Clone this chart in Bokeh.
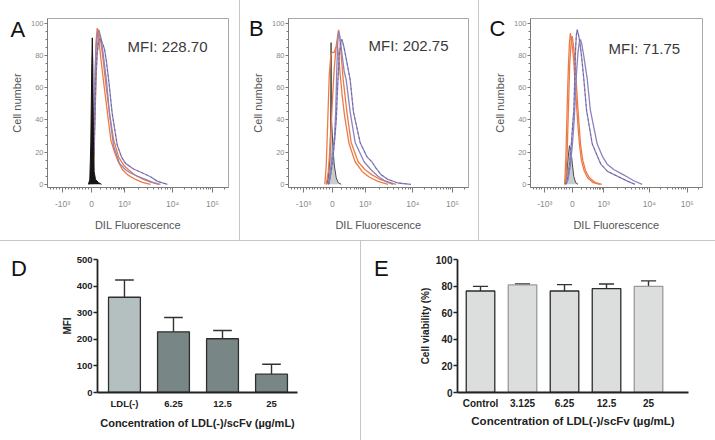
import math
from bokeh.plotting import figure
from bokeh.models import Range1d, FixedTicker, SingleIntervalTicker, Label, Spacer, GridBox
from bokeh.layouts import row, column
from bokeh.embed import file_html
from bokeh.resources import INLINE

FONT = "Liberation Sans"

# ---------------- data: flow cytometry histograms ----------------
# x in display units of a logicle axis, y = cell number (% of max)
x_tick_pos = [15, 44, 77, 125, 165]
x_tick_labels = ["-10³", "0", "10³", "10⁴", "10⁵"]

a_ctrl_x = [41, 42.3, 43.3, 44.3, 44.8, 45.3, 45.9, 46.6, 48, 51, 54]
a_ctrl_y = [0, 3, 25, 75, 91, 75, 30, 8, 3, 1, 0]
a_orange1_x = [44.5, 45.5, 46.5, 47.5, 48.5, 49.7, 51, 53, 56, 60, 63.5, 67, 70, 75, 81, 88, 95, 103]
a_orange1_y = [0, 10, 35, 65, 88, 97, 92, 80, 64, 44, 27, 20, 15, 9, 5.5, 3, 1.2, 0]
a_orange2_x = [45, 46, 47, 48.3, 49.5, 51.3, 53, 55.5, 58, 62, 66, 71, 76, 81, 88, 96, 104, 113]
a_orange2_y = [0, 8, 28, 60, 82, 94, 90, 78, 64, 44, 28, 17, 12, 9, 5.5, 3, 1.2, 0]
a_purple1_x = [41.5, 43, 44.5, 46, 46.8, 47.5, 48.5, 50, 51.3, 53, 55.5, 59, 62, 66, 72, 78, 83, 90, 98, 104, 111]
a_purple1_y = [0, 4, 12, 22, 40, 65, 85, 93, 96, 92, 82, 64, 44, 24, 13, 9, 7, 5, 3, 1.5, 0]
a_purple2_x = [42, 43.5, 45, 46.5, 47.3, 48.3, 49.5, 51, 53, 54.7, 57, 59, 61.3, 64.7, 69.7, 74, 78, 86, 95, 103, 110, 120]
a_purple2_y = [0, 3, 10, 20, 40, 65, 80, 88, 91, 88, 84, 76, 64, 44, 24.5, 17, 13, 9.5, 7, 4.7, 1.8, 0]

b_ctrl_x = [38.5, 40, 41.5, 42.3, 42.8, 43.3, 44.5, 46, 48, 50, 53]
b_ctrl_y = [0, 4, 15, 35, 88, 40, 25, 12, 4, 1, 0]
b_orange1_x = [36.5, 38, 39.5, 41, 42.5, 44, 46, 47.5, 49, 50.5, 52, 54, 56.5, 61, 67, 74, 81, 90, 100]
b_orange1_y = [0, 12, 40, 68, 80, 82, 82, 85, 86, 80, 68, 55, 42, 25, 14, 8, 4.5, 1.8, 0]
b_orange2_x = [38, 40, 42, 44, 46, 48, 50.3, 51.5, 53, 55, 58.7, 63, 70, 77, 83.7, 92, 100, 108]
b_orange2_y = [0, 8, 25, 50, 72, 86, 96, 92, 80, 65, 45, 26, 14, 9, 6, 3, 1.5, 0]
b_purple1_x = [40, 42, 44, 46.3, 47.5, 48.5, 49.5, 50.5, 52, 54, 56, 58, 62, 67, 76, 83, 90, 97, 105]
b_purple1_y = [0, 8, 18, 30, 45, 70, 88, 95, 90, 80, 70, 65, 45, 26, 14, 9, 5, 2, 0]
b_purple2_x = [40.5, 42.5, 44.5, 46.5, 48, 49.5, 51, 52.5, 53.7, 55.5, 58, 62, 65.3, 72, 79, 83.7, 88, 93, 100, 110, 123]
b_purple2_y = [0, 6, 15, 28, 40, 62, 80, 88, 90, 86, 78, 65, 45, 26, 17, 14, 10, 6, 3, 0.8, 0]

c_ctrl_x = [36, 38, 39.5, 41, 42.5, 44, 45.5, 47.5, 50]
c_ctrl_y = [0, 6, 16, 24, 21, 13, 5, 1, 0]
c_orange1_x = [36, 37.3, 38.5, 39.8, 41, 42, 43, 44.3, 45.5, 47, 48.8, 50, 51.5, 53.5, 56.5, 60, 66, 73]
c_orange1_y = [0, 18, 46, 72, 88, 94, 90, 84, 77, 62, 46, 36, 25, 15, 8.4, 4, 1, 0]
c_orange2_x = [37, 38.5, 39.8, 41.3, 43, 43.9, 45.5, 46.6, 48.3, 50, 52.6, 55, 57.9, 62, 68.4, 75]
c_orange2_y = [0, 18, 45, 75, 90, 92, 85, 77, 62, 46, 25, 15, 8.4, 4, 1, 0]
c_purple1_x = [37, 39, 41, 43, 44.5, 45.6, 46.3, 46.8, 47.5, 48.3, 49.1, 50.5, 52, 54, 56, 59, 65, 74, 81, 88, 95, 102, 110]
c_purple1_y = [0, 4, 12, 25, 38, 46, 60, 72, 85, 93, 96, 93, 88, 78, 66, 46, 25, 12.5, 8, 6, 4, 2, 0]
c_purple2_x = [37.5, 39.5, 42, 44, 46, 47.2, 48.5, 50, 51.3, 52.6, 54, 56, 57.5, 59.6, 63, 70.2, 76, 80.7, 88, 96.5, 102, 108.7, 117.5]
c_purple2_y = [0, 3, 12, 24, 40, 55, 70, 82, 88, 90, 87, 80, 74, 66, 46, 25, 17, 12.5, 9, 6.3, 4.5, 2.2, 0]

mfi_texts = ["MFI: 228.70", "MFI: 202.75", "MFI: 71.75"]
panel_letters = ["A", "B", "C", "D", "E"]

# ---------------- data: bar charts ----------------
d_categories = ["LDL(-)", "6.25", "12.5", "25"]
d_mfi = [358, 228, 202, 69]
d_mfi_sd = [65, 54, 31, 37]

e_categories = ["Control", "3.125", "6.25", "12.5", "25"]
e_viability = [76.3, 80.9, 76.3, 78.1, 79.8]
e_viability_sd = [3.5, 0.7, 4.8, 3.5, 4.1]

# ---------------- styles ----------------
ORANGE = "#ec7a46"
PURPLE = "#8b82c0"
DASH_DARK = "#3d3d55"
SEP = "#c6c6c6"
W, H = 715, 440


def x_minor_ticks():
    neg = [15 + (44 - 15) * k / 10 for k in range(1, 10)] + [15 - 2.9 * k for k in range(1, 5)]
    low = [44 + (77 - 44) * math.log10(1 + 0.9 * m) for m in range(1, 10)]
    d3 = [77 + (125 - 77) * math.log10(m) for m in range(2, 10)]
    d4 = [125 + (165 - 125) * math.log10(m) for m in range(2, 10)]
    return neg + low + d3 + d4 + [165 + 40 * math.log10(2)]


def add_text(p, x, y, text, size, color, style="normal"):
    p.add_layout(Label(x=x, y=y, x_units="screen", y_units="screen", text=text,
                       text_font=FONT, text_font_size=f"{size}px", text_color=color,
                       text_font_style=style, text_baseline="alphabetic", text_align="left"))


def hist_panel(ctrl, curves, dashed, ctrl_fill, ctrl_line, ctrl_on_top, w, h, bl, br, bt, bb, mfi, mfi_xy):
    p = figure(width=w, height=h, min_border_left=bl, min_border_right=br,
               min_border_top=bt, min_border_bottom=bb,
               x_range=Range1d(0, 181), y_range=Range1d(-2, 103),
               output_backend="svg", toolbar_location=None,
               background_fill_color="white", border_fill_color="white",
               outline_line_color="#a8a8a8", outline_line_width=1)
    p.grid.visible = False

    def draw_ctrl():
        cx, cy = ctrl
        p.varea(x=cx, y1=[0] * len(cx), y2=cy, fill_color=ctrl_fill)
        p.line(cx, cy, line_color=ctrl_line, line_width=1)

    if not ctrl_on_top:
        draw_ctrl()
    for (xs, ys), col in curves:
        p.line(xs, ys, line_color=col, line_width=1.3)
    dx, dy = dashed
    p.line(dx, dy, line_color=DASH_DARK, line_width=0.8, line_dash="2 3", line_alpha=0.6)
    if ctrl_on_top:
        draw_ctrl()

    xa = p.xaxis[0]
    ya = p.yaxis[0]
    xa.ticker = FixedTicker(ticks=x_tick_pos, minor_ticks=x_minor_ticks())
    xa.major_label_overrides = {t: l for t, l in zip(x_tick_pos, x_tick_labels)}
    ya.ticker = SingleIntervalTicker(interval=20, num_minor_ticks=4)
    xa.axis_label = "DIL Fluorescence"
    ya.axis_label = "Cell number"
    for ax in (xa, ya):
        ax.axis_line_color = "#7a7a7a"
        ax.major_tick_line_color = "#7a7a7a"
        ax.minor_tick_line_color = "#7a7a7a"
        ax.major_label_text_color = "#8a8a8a"
        ax.major_label_text_font = FONT
        ax.axis_label_text_font = FONT
        ax.axis_label_text_color = "#555555"
        ax.axis_label_text_font_size = "11px"
        ax.axis_label_text_font_style = "normal"
        ax.major_tick_in = 0
        ax.minor_tick_in = 0
    xa.major_tick_out = 5
    xa.minor_tick_out = 2
    xa.major_label_standoff = 6
    xa.major_label_text_font_size = "8.5px"
    xa.axis_label_standoff = 7
    ya.major_tick_out = 3
    ya.minor_tick_out = 2
    ya.major_label_standoff = 1
    ya.major_label_text_font_size = "7.5px"
    ya.axis_label_standoff = 5

    add_text(p, mfi_xy[0], mfi_xy[1], mfi, 15, "#3a3a3a")
    return p


pA = hist_panel((a_ctrl_x, a_ctrl_y),
                [((a_orange1_x, a_orange1_y), ORANGE), ((a_orange2_x, a_orange2_y), ORANGE),
                 ((a_purple1_x, a_purple1_y), PURPLE), ((a_purple2_x, a_purple2_y), PURPLE)],
                (a_purple2_x, a_purple2_y),
                "#151515", "#151515", True, 239, 240, 47, 11, 12, 51,
                mfi_texts[0], (80, 140.6))
pB = hist_panel((b_ctrl_x, b_ctrl_y),
                [((b_orange1_x, b_orange1_y), ORANGE), ((b_orange2_x, b_orange2_y), ORANGE),
                 ((b_purple1_x, b_purple1_y), PURPLE), ((b_purple2_x, b_purple2_y), PURPLE)],
                (b_purple2_x, b_purple2_y),
                "#c8cece", "#4a4a4a", False, 238, 240, 48, 10, 13, 50,
                mfi_texts[1], (80, 141.6))
pC = hist_panel((c_ctrl_x, c_ctrl_y),
                [((c_orange1_x, c_orange1_y), ORANGE), ((c_orange2_x, c_orange2_y), ORANGE),
                 ((c_purple1_x, c_purple1_y), PURPLE), ((c_purple2_x, c_purple2_y), PURPLE)],
                (c_purple1_x, c_purple1_y),
                "#c8cece", "#4a4a4a", False, 236, 240, 51, 13, 18, 53,
                mfi_texts[2], (78, 138.6))


def bar_panel(cats, vals, errs, fills, lines, ymax, yint, bar_w, cap_half, x_end,
              w, h, bl, br, bt, bb, ylabel, xlabel_size, tick_size,
              x_label_standoff, x_axis_label_standoff, ylabel_standoff):
    xs = list(range(len(cats)))
    p = figure(width=w, height=h, min_border_left=bl, min_border_right=br,
               min_border_top=bt, min_border_bottom=bb,
               x_range=Range1d(-x_end[0], x_end[1]), y_range=Range1d(0, ymax),
               output_backend="svg", toolbar_location=None,
               background_fill_color="white", border_fill_color="white",
               outline_line_color=None)
    p.grid.visible = False
    tops = [v + e for v, e in zip(vals, errs)]
    p.segment(x0=xs, y0=vals, x1=xs, y1=tops, line_color="#333333", line_width=1.4)
    p.segment(x0=[x - cap_half for x in xs], y0=tops, x1=[x + cap_half for x in xs], y1=tops,
              line_color="#333333", line_width=1.4)
    p.vbar(x=xs, top=vals, bottom=0, width=bar_w, fill_color=fills, line_color=lines, line_width=1.3)

    xa = p.xaxis[0]
    ya = p.yaxis[0]
    xa.ticker = FixedTicker(ticks=xs)
    xa.major_label_overrides = {x: c for x, c in zip(xs, cats)}
    ya.ticker = SingleIntervalTicker(interval=yint, num_minor_ticks=0)
    xa.axis_label = "Concentration of LDL(-)/scFv (µg/mL)"
    ya.axis_label = ylabel
    for ax in (xa, ya):
        ax.axis_line_color = "#222222"
        ax.axis_line_width = 1.8
        ax.major_tick_line_color = "#222222"
        ax.major_tick_line_width = 1.5
        ax.minor_tick_line_color = None
        ax.major_label_text_color = "#222222"
        ax.major_label_text_font = FONT
        ax.major_label_text_font_style = "bold"
        ax.major_label_text_font_size = f"{tick_size}px"
        ax.axis_label_text_font = FONT
        ax.axis_label_text_color = "#222222"
        ax.axis_label_text_font_style = "bold"
        ax.major_tick_in = 0
    xa.major_tick_out = 0
    xa.major_tick_line_color = None
    xa.major_label_standoff = x_label_standoff
    xa.axis_label_standoff = x_axis_label_standoff
    xa.axis_label_text_font_size = f"{xlabel_size}px"
    ya.major_tick_out = 4
    ya.major_label_standoff = 1
    ya.axis_label_standoff = ylabel_standoff
    ya.axis_label_text_font_size = "10px"
    return p


pD = bar_panel(d_categories, d_mfi, d_mfi_sd,
               ["#b4bfbf", "#788685", "#788685", "#788685"], "#2e2e2e",
               500, 100, 0.65, 0.19, (0.55, 3.53),
               360, 199, 97, 63, 14, 46, "MFI", 11, 9.5, 5, 5, 1)
pE = bar_panel(e_categories, e_viability, e_viability_sd,
               "#dcdedd", ["#2b2b2b", "#9a9a9a", "#2b2b2b", "#2b2b2b", "#9a9a9a"],
               100, 20, 0.68, 0.18, (0.548, 4.952),
               354, 199, 96, 27, 18, 48, "Cell viability (%)", 11.5, 10, 5, 3, 2)


def sep(w, h):
    return Spacer(width=w, height=h, styles={"background-color": SEP})


main = column(
    row(pA, sep(1, 240), pB, sep(1, 240), pC),
    sep(W, 1),
    row(pD, sep(1, 199), pE),
)

# transparent overlay carrying the panel letters (page pixel coordinates)
overlay = figure(width=W, height=H, x_range=Range1d(0, W), y_range=Range1d(0, H),
                 min_border=0, x_axis_location=None, y_axis_location=None,
                 toolbar_location=None, output_backend="svg",
                 border_fill_color=None, background_fill_color=None, outline_line_color=None,
                 align="start")
overlay.grid.visible = False
letter_pos = [(10, 411), (248.5, 412), (489, 412), (10.5, 172), (373.5, 172)]
for letter, (lx, ly) in zip(panel_letters, letter_pos):
    add_text(overlay, lx, ly, letter, 22, "#111111")

root = GridBox(children=[(main, 0, 0), (overlay, 0, 0)], spacing=0)

open("out.html", "w").write(file_html(root, INLINE))
